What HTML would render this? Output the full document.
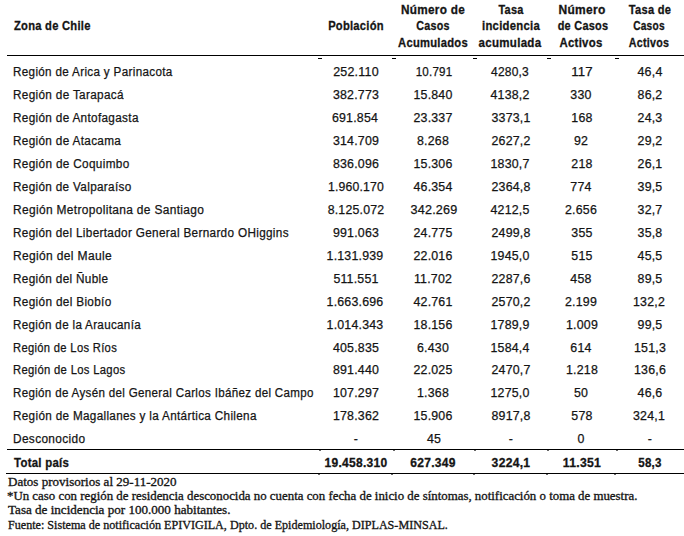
<!DOCTYPE html><html><head><meta charset="utf-8"><style>
html,body{margin:0;padding:0;background:#fff;width:684px;height:536px;overflow:hidden;position:relative}
.t{position:absolute;white-space:nowrap;color:#141414}
.r{font-family:'Liberation Sans', sans-serif;font-weight:normal;font-size:12.5px;line-height:12.5px;-webkit-text-stroke:0.25px #141414;letter-spacing:0.35px}
.b{font-family:'Liberation Sans', sans-serif;font-weight:bold;font-size:12.8px;line-height:12.8px;-webkit-text-stroke:0.3px #141414;letter-spacing:0.3px}
.s{font-family:'Liberation Serif', serif;font-weight:normal;font-size:11.5px;line-height:11.5px;-webkit-text-stroke:0.3px #141414}
.n{font-family:'Liberation Sans', sans-serif;font-weight:normal;font-size:12.5px;line-height:12.5px;-webkit-text-stroke:0.25px #141414;letter-spacing:0.2px}
.c{width:300px;text-align:center}
.ln{position:absolute;background:#000;height:1px}
.tk{position:absolute;background:#000;height:1px}
</style></head><body>
<div class="t b" style="left:14.00px;top:20.12px;transform:scaleX(0.8732);transform-origin:0 0"><span>Zona de Chile</span></div>
<div class="t c b" style="left:205.50px;top:20.12px;transform:scaleX(0.8727);transform-origin:50% 0"><span>Población</span></div>
<div class="t c b" style="left:283.00px;top:3.92px;transform:scaleX(0.9190);transform-origin:50% 0"><span>Número de</span></div>
<div class="t c b" style="left:283.00px;top:20.42px;transform:scaleX(0.8379);transform-origin:50% 0"><span>Casos</span></div>
<div class="t c b" style="left:283.00px;top:36.92px;transform:scaleX(0.8764);transform-origin:50% 0"><span>Acumulados</span></div>
<div class="t c b" style="left:361.00px;top:3.92px;transform:scaleX(0.8523);transform-origin:50% 0"><span>Tasa</span></div>
<div class="t c b" style="left:361.00px;top:20.42px;transform:scaleX(0.8825);transform-origin:50% 0"><span>incidencia</span></div>
<div class="t c b" style="left:360.00px;top:36.92px;transform:scaleX(0.9026);transform-origin:50% 0"><span>acumulada</span></div>
<div class="t c b" style="left:431.50px;top:3.92px;transform:scaleX(0.9379);transform-origin:50% 0"><span>Número</span></div>
<div class="t c b" style="left:432.50px;top:20.42px;transform:scaleX(0.8542);transform-origin:50% 0"><span>de Casos</span></div>
<div class="t c b" style="left:431.00px;top:36.92px;transform:scaleX(0.8893);transform-origin:50% 0"><span>Activos</span></div>
<div class="t c b" style="left:500.00px;top:3.92px;transform:scaleX(0.8669);transform-origin:50% 0"><span>Tasa de</span></div>
<div class="t c b" style="left:498.50px;top:20.42px;transform:scaleX(0.7918);transform-origin:50% 0"><span>Casos</span></div>
<div class="t c b" style="left:499.00px;top:36.92px;transform:scaleX(0.8339);transform-origin:50% 0"><span>Activos</span></div>
<div class="t r" style="left:13.00px;top:66.38px;transform:scaleX(0.9335);transform-origin:0 0"><span>Región de Arica y Parinacota</span></div>
<div class="t c n" style="left:206.00px;top:66.38px;transform:scaleX(0.9989);transform-origin:50% 0"><span>252.110</span></div>
<div class="t c n" style="left:283.50px;top:66.38px;transform:scaleX(0.9273);transform-origin:50% 0"><span>10.791</span></div>
<div class="t c n" style="left:360.00px;top:66.38px;transform:scaleX(0.9613);transform-origin:50% 0"><span>4280,3</span></div>
<div class="t c n" style="left:431.50px;top:66.38px;transform:scaleX(1.0582);transform-origin:50% 0"><span>117</span></div>
<div class="t c n" style="left:500.00px;top:66.38px;transform:scaleX(0.9957);transform-origin:50% 0"><span>46,4</span></div>
<div class="t r" style="left:13.00px;top:89.31px;transform:scaleX(0.9397);transform-origin:0 0"><span>Región de Tarapacá</span></div>
<div class="t c n" style="left:205.50px;top:89.31px;transform:scaleX(0.9904);transform-origin:50% 0"><span>382.773</span></div>
<div class="t c n" style="left:283.00px;top:89.31px;transform:scaleX(0.9904);transform-origin:50% 0"><span>15.840</span></div>
<div class="t c n" style="left:360.00px;top:89.31px;transform:scaleX(0.9904);transform-origin:50% 0"><span>4138,2</span></div>
<div class="t c n" style="left:431.00px;top:89.31px;transform:scaleX(0.9904);transform-origin:50% 0"><span>330</span></div>
<div class="t c n" style="left:499.50px;top:89.31px;transform:scaleX(0.9904);transform-origin:50% 0"><span>86,2</span></div>
<div class="t r" style="left:13.00px;top:112.23px;transform:scaleX(0.9395);transform-origin:0 0"><span>Región de Antofagasta</span></div>
<div class="t c n" style="left:205.00px;top:112.23px;transform:scaleX(0.9904);transform-origin:50% 0"><span>691.854</span></div>
<div class="t c n" style="left:282.50px;top:112.23px;transform:scaleX(0.9904);transform-origin:50% 0"><span>23.337</span></div>
<div class="t c n" style="left:360.50px;top:112.23px;transform:scaleX(0.9904);transform-origin:50% 0"><span>3373,1</span></div>
<div class="t c n" style="left:431.50px;top:112.23px;transform:scaleX(0.9904);transform-origin:50% 0"><span>168</span></div>
<div class="t c n" style="left:499.50px;top:112.23px;transform:scaleX(0.9904);transform-origin:50% 0"><span>24,3</span></div>
<div class="t r" style="left:13.00px;top:135.16px;transform:scaleX(0.9406);transform-origin:0 0"><span>Región de Atacama</span></div>
<div class="t c n" style="left:205.50px;top:135.16px;transform:scaleX(0.9904);transform-origin:50% 0"><span>314.709</span></div>
<div class="t c n" style="left:282.50px;top:135.16px;transform:scaleX(0.9904);transform-origin:50% 0"><span>8.268</span></div>
<div class="t c n" style="left:360.50px;top:135.16px;transform:scaleX(0.9904);transform-origin:50% 0"><span>2627,2</span></div>
<div class="t c n" style="left:430.50px;top:135.16px;transform:scaleX(0.9904);transform-origin:50% 0"><span>92</span></div>
<div class="t c n" style="left:499.50px;top:135.16px;transform:scaleX(0.9904);transform-origin:50% 0"><span>29,2</span></div>
<div class="t r" style="left:13.00px;top:158.09px;transform:scaleX(0.9416);transform-origin:0 0"><span>Región de Coquimbo</span></div>
<div class="t c n" style="left:206.00px;top:158.09px;transform:scaleX(0.9904);transform-origin:50% 0"><span>836.096</span></div>
<div class="t c n" style="left:283.00px;top:158.09px;transform:scaleX(0.9904);transform-origin:50% 0"><span>15.306</span></div>
<div class="t c n" style="left:360.00px;top:158.09px;transform:scaleX(0.9904);transform-origin:50% 0"><span>1830,7</span></div>
<div class="t c n" style="left:431.50px;top:158.09px;transform:scaleX(0.9904);transform-origin:50% 0"><span>218</span></div>
<div class="t c n" style="left:499.50px;top:158.09px;transform:scaleX(0.9904);transform-origin:50% 0"><span>26,1</span></div>
<div class="t r" style="left:13.00px;top:181.03px;transform:scaleX(0.9390);transform-origin:0 0"><span>Región de Valparaíso</span></div>
<div class="t c n" style="left:206.00px;top:181.03px;transform:scaleX(0.9785);transform-origin:50% 0"><span>1.960.170</span></div>
<div class="t c n" style="left:282.50px;top:181.03px;transform:scaleX(0.9904);transform-origin:50% 0"><span>46.354</span></div>
<div class="t c n" style="left:360.50px;top:181.03px;transform:scaleX(0.9904);transform-origin:50% 0"><span>2364,8</span></div>
<div class="t c n" style="left:431.00px;top:181.03px;transform:scaleX(0.9904);transform-origin:50% 0"><span>774</span></div>
<div class="t c n" style="left:499.50px;top:181.03px;transform:scaleX(0.9904);transform-origin:50% 0"><span>39,5</span></div>
<div class="t r" style="left:13.00px;top:203.95px;transform:scaleX(0.9554);transform-origin:0 0"><span>Región Metropolitana de Santiago</span></div>
<div class="t c n" style="left:206.00px;top:203.95px;transform:scaleX(0.9851);transform-origin:50% 0"><span>8.125.072</span></div>
<div class="t c n" style="left:283.50px;top:203.95px;transform:scaleX(1.0074);transform-origin:50% 0"><span>342.269</span></div>
<div class="t c n" style="left:360.00px;top:203.95px;transform:scaleX(0.9904);transform-origin:50% 0"><span>4212,5</span></div>
<div class="t c n" style="left:431.00px;top:203.95px;transform:scaleX(0.9904);transform-origin:50% 0"><span>2.656</span></div>
<div class="t c n" style="left:499.50px;top:203.95px;transform:scaleX(0.9904);transform-origin:50% 0"><span>32,7</span></div>
<div class="t r" style="left:13.00px;top:226.88px;transform:scaleX(0.9392);transform-origin:0 0"><span>Región del Libertador General Bernardo OHiggins</span></div>
<div class="t c n" style="left:205.50px;top:226.88px;transform:scaleX(0.9904);transform-origin:50% 0"><span>991.063</span></div>
<div class="t c n" style="left:282.50px;top:226.88px;transform:scaleX(0.9904);transform-origin:50% 0"><span>24.775</span></div>
<div class="t c n" style="left:360.50px;top:226.88px;transform:scaleX(0.9904);transform-origin:50% 0"><span>2499,8</span></div>
<div class="t c n" style="left:431.50px;top:226.88px;transform:scaleX(0.9904);transform-origin:50% 0"><span>355</span></div>
<div class="t c n" style="left:499.50px;top:226.88px;transform:scaleX(0.9904);transform-origin:50% 0"><span>35,8</span></div>
<div class="t r" style="left:13.00px;top:249.81px;transform:scaleX(0.9621);transform-origin:0 0"><span>Región del Maule</span></div>
<div class="t c n" style="left:205.00px;top:249.81px;transform:scaleX(0.9904);transform-origin:50% 0"><span>1.131.939</span></div>
<div class="t c n" style="left:282.50px;top:249.81px;transform:scaleX(0.9904);transform-origin:50% 0"><span>22.016</span></div>
<div class="t c n" style="left:360.00px;top:249.81px;transform:scaleX(0.9904);transform-origin:50% 0"><span>1945,0</span></div>
<div class="t c n" style="left:431.50px;top:249.81px;transform:scaleX(0.9904);transform-origin:50% 0"><span>515</span></div>
<div class="t c n" style="left:499.50px;top:249.81px;transform:scaleX(0.9904);transform-origin:50% 0"><span>45,5</span></div>
<div class="t r" style="left:13.00px;top:272.75px;transform:scaleX(0.9395);transform-origin:0 0"><span>Región del Ñuble</span></div>
<div class="t c n" style="left:206.00px;top:272.75px;transform:scaleX(0.9904);transform-origin:50% 0"><span>511.551</span></div>
<div class="t c n" style="left:282.50px;top:272.75px;transform:scaleX(0.9904);transform-origin:50% 0"><span>11.702</span></div>
<div class="t c n" style="left:360.50px;top:272.75px;transform:scaleX(0.9904);transform-origin:50% 0"><span>2287,6</span></div>
<div class="t c n" style="left:431.00px;top:272.75px;transform:scaleX(0.9904);transform-origin:50% 0"><span>458</span></div>
<div class="t c n" style="left:499.50px;top:272.75px;transform:scaleX(0.9904);transform-origin:50% 0"><span>89,5</span></div>
<div class="t r" style="left:13.00px;top:295.68px;transform:scaleX(0.9424);transform-origin:0 0"><span>Región del Biobío</span></div>
<div class="t c n" style="left:205.00px;top:295.68px;transform:scaleX(0.9904);transform-origin:50% 0"><span>1.663.696</span></div>
<div class="t c n" style="left:282.50px;top:295.68px;transform:scaleX(0.9904);transform-origin:50% 0"><span>42.761</span></div>
<div class="t c n" style="left:360.50px;top:295.68px;transform:scaleX(0.9904);transform-origin:50% 0"><span>2570,2</span></div>
<div class="t c n" style="left:431.00px;top:295.68px;transform:scaleX(0.9904);transform-origin:50% 0"><span>2.199</span></div>
<div class="t c n" style="left:499.00px;top:295.68px;transform:scaleX(0.9904);transform-origin:50% 0"><span>132,2</span></div>
<div class="t r" style="left:13.00px;top:318.61px;transform:scaleX(0.9299);transform-origin:0 0"><span>Región de la Araucanía</span></div>
<div class="t c n" style="left:205.00px;top:318.61px;transform:scaleX(0.9904);transform-origin:50% 0"><span>1.014.343</span></div>
<div class="t c n" style="left:283.00px;top:318.61px;transform:scaleX(0.9904);transform-origin:50% 0"><span>18.156</span></div>
<div class="t c n" style="left:360.00px;top:318.61px;transform:scaleX(0.9904);transform-origin:50% 0"><span>1789,9</span></div>
<div class="t c n" style="left:431.50px;top:318.61px;transform:scaleX(0.9904);transform-origin:50% 0"><span>1.009</span></div>
<div class="t c n" style="left:499.50px;top:318.61px;transform:scaleX(0.9904);transform-origin:50% 0"><span>99,5</span></div>
<div class="t r" style="left:13.00px;top:341.53px;transform:scaleX(0.8966);transform-origin:0 0"><span>Región de Los Ríos</span></div>
<div class="t c n" style="left:206.00px;top:341.53px;transform:scaleX(0.9904);transform-origin:50% 0"><span>405.835</span></div>
<div class="t c n" style="left:282.50px;top:341.53px;transform:scaleX(0.9904);transform-origin:50% 0"><span>6.430</span></div>
<div class="t c n" style="left:360.00px;top:341.53px;transform:scaleX(0.9904);transform-origin:50% 0"><span>1584,4</span></div>
<div class="t c n" style="left:431.00px;top:341.53px;transform:scaleX(0.9904);transform-origin:50% 0"><span>614</span></div>
<div class="t c n" style="left:499.50px;top:341.53px;transform:scaleX(0.9904);transform-origin:50% 0"><span>151,3</span></div>
<div class="t r" style="left:13.00px;top:364.46px;transform:scaleX(0.9010);transform-origin:0 0"><span>Región de Los Lagos</span></div>
<div class="t c n" style="left:205.50px;top:364.46px;transform:scaleX(0.9904);transform-origin:50% 0"><span>891.440</span></div>
<div class="t c n" style="left:282.50px;top:364.46px;transform:scaleX(0.9904);transform-origin:50% 0"><span>22.025</span></div>
<div class="t c n" style="left:360.50px;top:364.46px;transform:scaleX(0.9904);transform-origin:50% 0"><span>2470,7</span></div>
<div class="t c n" style="left:431.50px;top:364.46px;transform:scaleX(0.9904);transform-origin:50% 0"><span>1.218</span></div>
<div class="t c n" style="left:499.50px;top:364.46px;transform:scaleX(0.9904);transform-origin:50% 0"><span>136,6</span></div>
<div class="t r" style="left:13.00px;top:387.39px;transform:scaleX(0.9262);transform-origin:0 0"><span>Región de Aysén del General Carlos Ibáñez del Campo</span></div>
<div class="t c n" style="left:205.50px;top:387.39px;transform:scaleX(0.9904);transform-origin:50% 0"><span>107.297</span></div>
<div class="t c n" style="left:282.50px;top:387.39px;transform:scaleX(0.9904);transform-origin:50% 0"><span>1.368</span></div>
<div class="t c n" style="left:360.00px;top:387.39px;transform:scaleX(0.9904);transform-origin:50% 0"><span>1275,0</span></div>
<div class="t c n" style="left:430.50px;top:387.39px;transform:scaleX(0.9904);transform-origin:50% 0"><span>50</span></div>
<div class="t c n" style="left:499.50px;top:387.39px;transform:scaleX(0.9904);transform-origin:50% 0"><span>46,6</span></div>
<div class="t r" style="left:13.00px;top:410.32px;transform:scaleX(0.9363);transform-origin:0 0"><span>Región de Magallanes y la Antártica Chilena</span></div>
<div class="t c n" style="left:205.50px;top:410.32px;transform:scaleX(0.9904);transform-origin:50% 0"><span>178.362</span></div>
<div class="t c n" style="left:283.00px;top:410.32px;transform:scaleX(0.9904);transform-origin:50% 0"><span>15.906</span></div>
<div class="t c n" style="left:360.50px;top:410.32px;transform:scaleX(0.9904);transform-origin:50% 0"><span>8917,8</span></div>
<div class="t c n" style="left:431.50px;top:410.32px;transform:scaleX(0.9904);transform-origin:50% 0"><span>578</span></div>
<div class="t c n" style="left:499.00px;top:410.32px;transform:scaleX(0.9904);transform-origin:50% 0"><span>324,1</span></div>
<div class="t r" style="left:13.00px;top:433.25px;transform:scaleX(0.9506);transform-origin:0 0"><span>Desconocido</span></div>
<div class="t c n" style="left:205.50px;top:433.25px;transform:scaleX(0.9904);transform-origin:50% 0"><span>-</span></div>
<div class="t c n" style="left:283.50px;top:433.25px;transform:scaleX(0.9904);transform-origin:50% 0"><span>45</span></div>
<div class="t c n" style="left:360.50px;top:433.25px;transform:scaleX(0.9904);transform-origin:50% 0"><span>-</span></div>
<div class="t c n" style="left:431.00px;top:433.25px;transform:scaleX(0.9904);transform-origin:50% 0"><span>0</span></div>
<div class="t c n" style="left:499.50px;top:433.25px;transform:scaleX(0.9904);transform-origin:50% 0"><span>-</span></div>
<div class="t b" style="left:14.00px;top:457.12px;transform:scaleX(0.8928);transform-origin:0 0"><span>Total país</span></div>
<div class="t c b" style="left:206.00px;top:457.12px;transform:scaleX(0.9398);transform-origin:50% 0"><span>19.458.310</span></div>
<div class="t c b" style="left:283.00px;top:457.12px;transform:scaleX(0.9398);transform-origin:50% 0"><span>627.349</span></div>
<div class="t c b" style="left:360.50px;top:457.12px;transform:scaleX(0.9466);transform-origin:50% 0"><span>3224,1</span></div>
<div class="t c b" style="left:431.50px;top:457.12px;transform:scaleX(0.9529);transform-origin:50% 0"><span>11.351</span></div>
<div class="t c b" style="left:500.00px;top:457.12px;transform:scaleX(0.9015);transform-origin:50% 0"><span>58,3</span></div>
<div class="t s" style="left:8.00px;top:477.15px;transform:scaleX(1.1336);transform-origin:0 0"><span>Datos provisorios al 29-11-2020</span></div>
<div class="t s" style="left:7.00px;top:491.05px;transform:scaleX(1.1184);transform-origin:0 0"><span>*Un caso con región de residencia desconocida no cuenta con fecha de inicio de síntomas, notificación o toma de muestra.</span></div>
<div class="t s" style="left:8.00px;top:505.15px;transform:scaleX(1.1375);transform-origin:0 0"><span>Tasa de incidencia por 100.000 habitantes.</span></div>
<div class="t s" style="left:8.00px;top:519.66px;transform:scaleX(1.0528);transform-origin:0 0"><span>Fuente: Sistema de notificación EPIVIGILA, Dpto. de Epidemiología, DIPLAS-MINSAL.</span></div>
<div class="ln" style="left:7px;top:55px;width:677px"></div>
<div class="ln" style="left:7px;top:449px;width:677px"></div>
<div class="ln" style="left:6px;top:473px;width:678px"></div>
<div class="tk" style="left:318px;top:58px;width:4px"></div>
<div class="tk" style="left:392px;top:58px;width:4px"></div>
<div class="tk" style="left:473px;top:58px;width:4px"></div>
<div class="tk" style="left:547px;top:58px;width:4px"></div>
<div class="tk" style="left:615px;top:58px;width:4px"></div>
<div class="tk" style="left:319px;top:450px;width:2px;opacity:.6"></div>
<div class="tk" style="left:393px;top:450px;width:2px;opacity:.6"></div>
<div class="tk" style="left:474px;top:450px;width:2px;opacity:.6"></div>
<div class="tk" style="left:547px;top:450px;width:2px;opacity:.6"></div>
<div class="tk" style="left:616px;top:450px;width:2px;opacity:.6"></div>
<div class="tk" style="left:318px;top:474px;width:2px;opacity:.6"></div>
<div class="tk" style="left:391px;top:474px;width:2px;opacity:.6"></div>
<div class="tk" style="left:473px;top:474px;width:2px;opacity:.6"></div>
<div class="tk" style="left:546px;top:474px;width:2px;opacity:.6"></div>
<div class="tk" style="left:614px;top:474px;width:2px;opacity:.6"></div>

</body></html>
